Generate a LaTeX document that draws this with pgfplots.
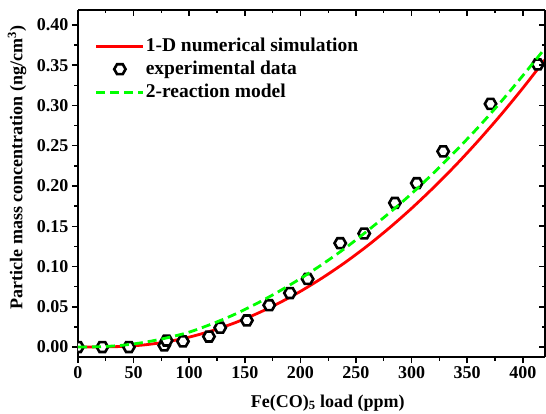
\documentclass[border=0pt]{standalone}
\usepackage{fontspec}
\setmainfont{Liberation Serif}
\usepackage{pgfplots}
\pgfplotsset{compat=1.18}
\definecolor{simred}{RGB}{255,0,0}
\definecolor{modgreen}{RGB}{0,255,0}
\pgfdeclareplotmark{hexagon}{%
  \pgfpathmoveto{\pgfpointpolar{0}{\pgfplotmarksize}}%
  \pgfpathlineto{\pgfpointpolar{60}{\pgfplotmarksize}}%
  \pgfpathlineto{\pgfpointpolar{120}{\pgfplotmarksize}}%
  \pgfpathlineto{\pgfpointpolar{180}{\pgfplotmarksize}}%
  \pgfpathlineto{\pgfpointpolar{240}{\pgfplotmarksize}}%
  \pgfpathlineto{\pgfpointpolar{300}{\pgfplotmarksize}}%
  \pgfpathclose
  \pgfusepathqfillstroke
}
\pgfplotsset{
  linelegend/.style={legend image code/.code={\draw[##1] (0bp,0bp) -- (47bp,0bp);}},
  marklegend/.style={legend image code/.code={\draw[##1] plot coordinates {(23.5bp,0bp)};}},
}
\begin{document}
\begin{tikzpicture}
\useasboundingbox (-78bp,-57bp) rectangle (468bp,357bp);
\pgfplotsset{common/.style={
  at={(0bp,0bp)}, anchor=south west, scale only axis,
  width=467bp, height=347bp,
  xmin=0, xmax=420, ymin=-0.0124, ymax=0.4186,
  xtick={0,50,100,150,200,250,300,350,400},
  ytick={0,0.05,0.10,0.15,0.20,0.25,0.30,0.35,0.40},
  minor x tick num=1, minor y tick num=1,
  axis line style={line width=2bp,-},
  major tick length=6bp, minor tick length=3.5bp,
  major tick style={line width=1.5bp, black},
  minor tick style={line width=1.3bp, black},
}}
\begin{axis}[common,
  axis x line*=bottom, axis y line*=left, tick align=outside,
  clip marker paths=true,
  ticklabel style={font=\bfseries\fontsize{18bp}{21bp}\selectfont},
  /pgf/number format/assume math mode=true,
  yticklabel style={/pgf/number format/.cd, fixed, fixed zerofill, precision=2},
  label style={font=\bfseries\fontsize{18bp}{21bp}\selectfont},
  xlabel={Fe(CO)\textsubscript{5} load (ppm)},
  ylabel={Particle mass concentration (ng/cm\textsuperscript{3})},
  xlabel style={at={(axis description cs:0.535,-0.1326)}, anchor=center},
  ylabel style={at={(axis description cs:-0.1306,0.546)}, anchor=center},
  legend cell align=left,
  legend style={at={(axis description cs:0.0364,0.926)}, anchor=north west,
    draw=none, fill=none, inner sep=0pt, outer sep=0pt,
    font=\bfseries\fontsize{19.5bp}{23bp}\selectfont, row sep=2bp,
    nodes={inner sep=1bp, text height=15bp, text depth=4bp},
    /tikz/every even column/.append style={column sep=-9bp}},
]
\addplot[color=simred, line width=2.8bp, smooth, linelegend]
coordinates {
(0,0.0000) (20,0.0002) (40,0.0007) (60,0.0027) (80,0.0065) (100,0.0123)
(120,0.0200) (140,0.0295) (160,0.0409) (180,0.0541) (200,0.0691)
(220,0.0861) (240,0.1048) (260,0.1254) (280,0.1479) (300,0.1722)
(320,0.1984) (340,0.2263) (360,0.2562) (380,0.2879) (400,0.3215) (420,0.3569)
};
\addlegendentry{1-D numerical simulation}
\addplot[only marks, mark=hexagon, mark size=5.7bp,
  mark options={line width=2.6bp, draw=black, fill=white}, marklegend]
coordinates {
(0,0.000) (21.9,0.000) (45.8,0.000) (77.6,0.002) (79.7,0.008) (94.4,0.007)
(117.8,0.013) (127.9,0.024) (151.9,0.033) (172,0.052) (190.6,0.067)
(206.5,0.0845) (235.8,0.129) (257.4,0.141) (285,0.179) (304.7,0.2035)
(328.4,0.243) (371,0.302) (413.5,0.351)
};
\addlegendentry{experimental data}
\addplot[color=modgreen, line width=2.8bp, dash pattern=on 9bp off 5bp, smooth, linelegend]
coordinates {
(0,0.0000) (20,0.0004) (40,0.0022) (60,0.0059) (80,0.0114) (100,0.0185)
(120,0.0285) (140,0.0400) (160,0.0535) (180,0.0685) (200,0.0850)
(220,0.1030) (240,0.1225) (260,0.1440) (280,0.1665) (300,0.1905)
(320,0.2165) (340,0.2440) (360,0.2730) (380,0.3040) (400,0.3370) (420,0.3710)
};
\addlegendentry{2-reaction model}
\end{axis}
\begin{axis}[common,
  axis x line*=top, axis y line*=right, tick align=inside,
  xticklabels={}, yticklabels={}]
\end{axis}
\end{tikzpicture}
\end{document}
